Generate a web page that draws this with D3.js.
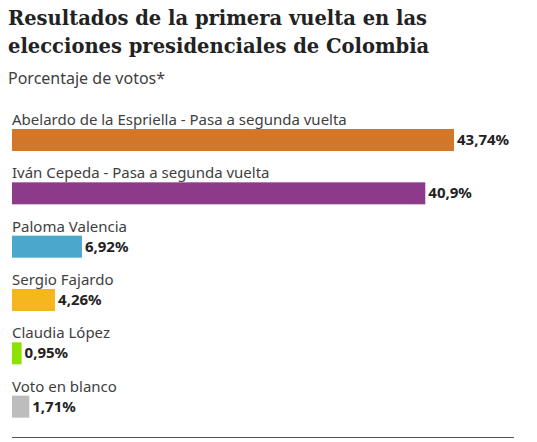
<!DOCTYPE html>
<html><head><meta charset="utf-8">
<script src="https://cdn.jsdelivr.net/npm/d3@7"></script>
<style>body{margin:0;background:#fff}</style>
</head><body><div id="chart"></div>
<script>
var candidates = ["Abelardo de la Espriella - Pasa a segunda vuelta", "Iván Cepeda - Pasa a segunda vuelta", "Paloma Valencia", "Sergio Fajardo", "Claudia López", "Voto en blanco"];
var values = [43.74, 40.9, 6.92, 4.26, 0.95, 1.71];
var valueLabels = ["43,74%", "40,9%", "6,92%", "4,26%", "0,95%", "1,71%"];
var colors = ["#d2762a", "#8e3a8a", "#4ba7cb", "#f5b71d", "#8ee200", "#bdbdbd"];

var width = 537, height = 442;
var svg = d3.select("#chart").append("svg").attr("width", width).attr("height", height);

svg.append("text").attr("x", 8).attr("y", 25)
    .attr("font-family", "DejaVu Serif").attr("font-weight", "bold").attr("font-size", 19.5).attr("fill", "#222")
    .selectAll("tspan").data(["Resultados de la primera vuelta en las", "elecciones presidenciales de Colombia"])
    .join("tspan").attr("x", 8).attr("dy", function (d, i) { return i ? 28 : 0; }).text(function (d) { return d; });

svg.append("text").attr("x", 8).attr("y", 84)
    .attr("font-family", "Noto Sans").attr("font-size", 16).attr("fill", "#404040").text("Porcentaje de votos*");

var x = d3.scaleLinear().domain([0, 43.74]).range([0, 442]);
var y = d3.scaleBand().domain(d3.range(values.length)).range([104, 424]);

var g = svg.append("g").attr("transform", "translate(12,0)");
var rows = g.selectAll("g.row").data(values).join("g").attr("class", "row")
    .attr("transform", function (d, i) { return "translate(0," + y(i) + ")"; });

rows.append("text").attr("y", 21).attr("font-family", "Noto Sans").attr("font-size", 15).attr("fill", "#404040")
    .text(function (d, i) { return candidates[i]; });
rows.append("rect").attr("y", 25).attr("height", 22).attr("width", function (d) { return x(d); })
    .attr("fill", function (d, i) { return colors[i]; });
rows.append("text").attr("x", function (d) { return x(d) + 3; }).attr("y", 41)
    .attr("font-family", "Noto Sans").attr("font-weight", "bold").attr("font-size", 15).attr("fill", "#222")
    .text(function (d, i) { return valueLabels[i]; });

svg.append("line").attr("x1", 12).attr("x2", 514).attr("y1", 437.5).attr("y2", 437.5).attr("stroke", "#555");
</script></body></html>
